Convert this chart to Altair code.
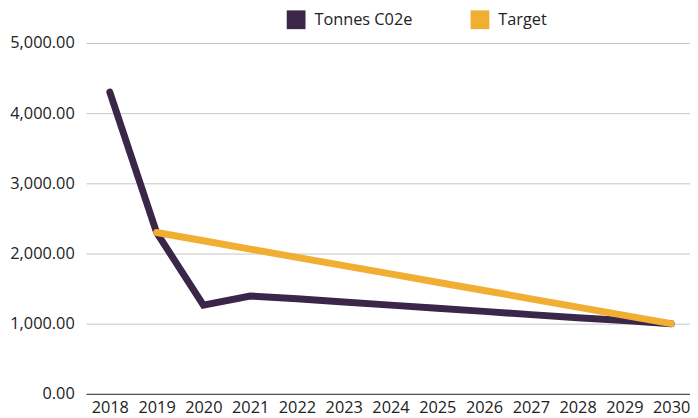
import altair as alt
import pandas as pd

years = list(range(2018, 2031))
tonnes = [4300, 2300, 1265, 1395, 1355, 1310, 1265, 1220, 1175, 1130, 1085, 1045, 1000]
target_years = list(range(2019, 2031))
target = [2300, 2182, 2064, 1945, 1827, 1709, 1591, 1473, 1355, 1236, 1118, 1000]
series = ["Tonnes C02e", "Target"]
colors = ["#3a2649", "#f0ae33"]

rows = [{"year": y, "value": v, "series": series[0]} for y, v in zip(years, tonnes)]
rows += [{"year": y, "value": v, "series": series[1]} for y, v in zip(target_years, target)]
df = pd.DataFrame(rows)

FONT = "Open Sans"
FS = 16.5

chart = alt.Chart(df).mark_line(strokeWidth=7, strokeCap="round", strokeJoin="miter").encode(
    x=alt.X("year:Q",
            scale=alt.Scale(domain=[2017.493, 2030.402], nice=False, zero=False),
            axis=alt.Axis(values=years, format="d", title=None, grid=False,
                          labelFontSize=FS, labelColor="#222222", labelFont=FONT,
                          domainColor="#555555", domainWidth=1.2, ticks=False,
                          labelPadding=6, labelFlush=False)),
    y=alt.Y("value:Q",
            scale=alt.Scale(domain=[0, 5000], nice=False),
            axis=alt.Axis(values=[0, 1000, 2000, 3000, 4000, 5000], format=",.2f",
                          title=None, grid=True, gridColor="#c4c4c4", gridWidth=1,
                          domain=False, ticks=False, labelPadding=12,
                          labelFontSize=FS, labelColor="#222222", labelFont=FONT)),
    color=alt.Color("series:N",
                    scale=alt.Scale(domain=series, range=colors),
                    sort=series,
                    legend=alt.Legend(title=None, orient="none", legendX=203, legendY=-33,
                                      direction="horizontal", symbolType="square",
                                      symbolSize=81, symbolStrokeWidth=10,
                                      symbolOpacity=1,
                                      labelFontSize=FS, labelFont=FONT, labelColor="#222222",
                                      columnPadding=43, labelOffset=9)),
    order=alt.Order("series:N", sort="descending"),
).properties(
    width=611, height=355,
    autosize=alt.AutoSizeParams(type="none"),
    padding={"left": 79, "top": 33, "right": 0, "bottom": 22},
).configure_view(stroke=None)

chart.save("out.html", embed_options={"renderer": "svg", "actions": False})
